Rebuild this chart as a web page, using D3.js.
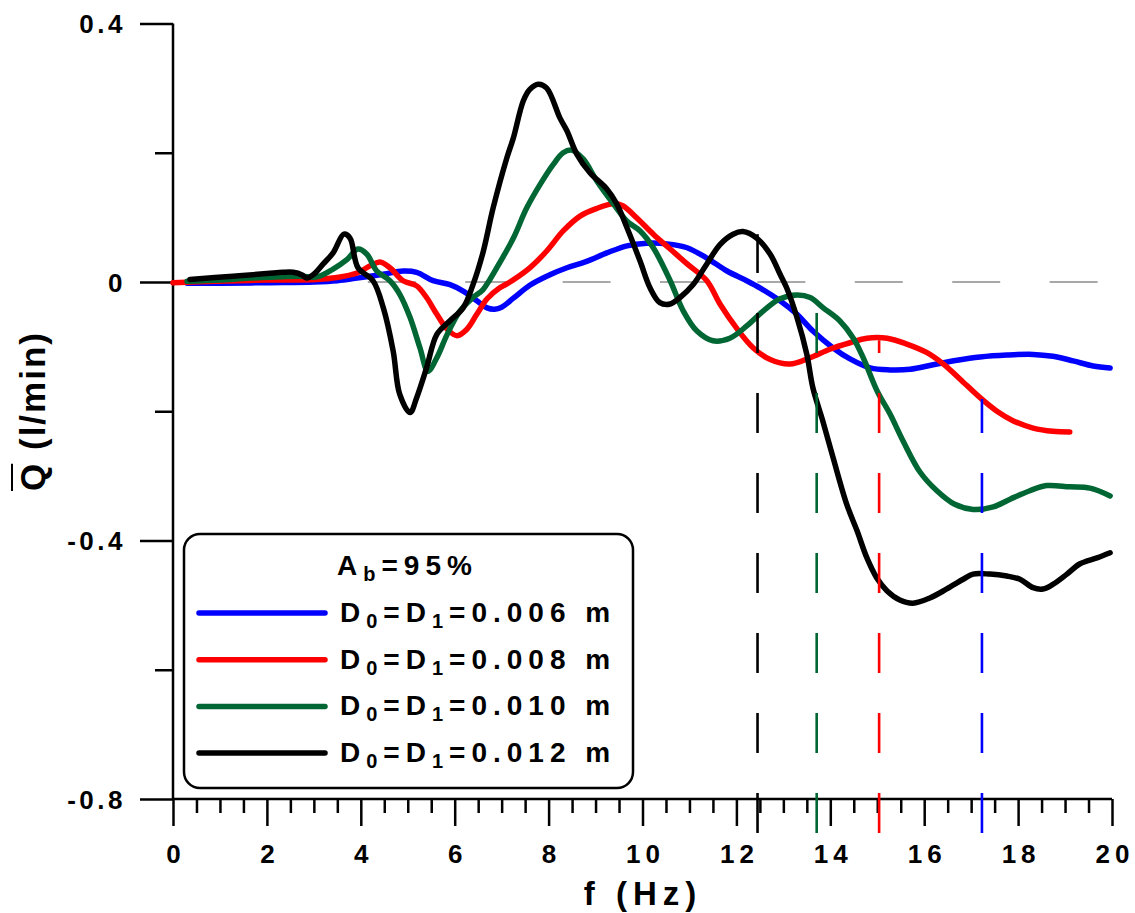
<!DOCTYPE html>
<html><head><meta charset="utf-8">
<script src="https://cdn.jsdelivr.net/npm/d3@7"></script>
<style>
body{margin:0;background:#fff}
svg{display:block}
text{font-family:"Liberation Sans",Arial,sans-serif;font-weight:bold;fill:#000}
</style>
</head><body>
<svg id="c" width="1135" height="913"></svg>
<script>
// ---- data (f in Hz, Q in l/min) ----
const s006 = [[0.3,-0.002],[1.0,-0.002],[2.0,-0.001],[3.0,0.0],[3.5,0.002],[3.92,0.006],[4.48,0.012],[4.9,0.017],[5.19,0.015],[5.54,0.002],[5.9,-0.004],[6.18,-0.014],[6.47,-0.029],[6.69,-0.04],[6.85,-0.042],[7.0,-0.039],[7.25,-0.025],[7.6,-0.005],[7.96,0.009],[8.39,0.022],[8.81,0.032],[9.24,0.045],[9.67,0.056],[10.09,0.060],[10.52,0.059],[10.95,0.053],[11.37,0.037],[11.8,0.017],[12.22,0.002],[12.5,-0.009],[12.93,-0.029],[13.29,-0.05],[13.63,-0.076],[14.06,-0.102],[14.42,-0.119],[14.85,-0.133],[15.27,-0.136],[15.7,-0.135],[16.19,-0.128],[16.7,-0.121],[17.19,-0.116],[17.76,-0.113],[18.32,-0.112],[18.74,-0.115],[19.17,-0.122],[19.6,-0.13],[19.96,-0.133]];
const s008 = [[0,-0.001],[0.93,0.001],[2.0,0.003],[3.07,0.004],[3.49,0.007],[3.92,0.014],[4.2,0.025],[4.41,0.031],[4.62,0.022],[4.9,0.002],[5.19,-0.006],[5.4,-0.024],[5.62,-0.05],[5.84,-0.073],[6.05,-0.083],[6.26,-0.073],[6.47,-0.05],[6.69,-0.026],[6.96,-0.009],[7.11,-0.003],[7.6,0.022],[7.96,0.048],[8.31,0.079],[8.67,0.102],[9.03,0.114],[9.38,0.121],[9.58,0.118],[9.88,0.099],[10.23,0.074],[10.59,0.051],[10.95,0.028],[11.37,0.002],[11.65,-0.034],[12.0,-0.071],[12.36,-0.102],[12.72,-0.12],[13.14,-0.127],[13.57,-0.117],[13.99,-0.104],[14.42,-0.094],[14.78,-0.087],[15.21,-0.087],[15.63,-0.096],[16.05,-0.109],[16.41,-0.127],[16.76,-0.15],[17.19,-0.179],[17.55,-0.2],[17.9,-0.215],[18.32,-0.226],[18.74,-0.231],[19.1,-0.232]];
const s010 = [[0.3,0.001],[1.0,0.003],[1.64,0.006],[2.7,0.009],[3.07,0.008],[3.41,0.02],[3.71,0.035],[3.94,0.051],[4.13,0.043],[4.34,0.017],[4.62,0.002],[4.83,-0.019],[5.05,-0.055],[5.26,-0.102],[5.43,-0.138],[5.62,-0.117],[5.84,-0.081],[6.11,-0.045],[6.39,-0.024],[6.6,-0.012],[6.75,0.004],[6.96,0.03],[7.25,0.068],[7.53,0.114],[7.82,0.151],[8.1,0.182],[8.31,0.2],[8.49,0.204],[8.74,0.19],[9.03,0.156],[9.38,0.121],[9.67,0.094],[9.95,0.079],[10.23,0.053],[10.59,0.002],[10.87,-0.045],[11.16,-0.076],[11.5,-0.091],[11.86,-0.087],[12.22,-0.068],[12.57,-0.045],[12.93,-0.026],[13.29,-0.02],[13.57,-0.024],[13.85,-0.04],[14.2,-0.06],[14.49,-0.087],[14.7,-0.117],[15.0,-0.169],[15.27,-0.204],[15.55,-0.246],[15.91,-0.294],[16.27,-0.323],[16.65,-0.344],[17.04,-0.352],[17.47,-0.348],[17.83,-0.336],[18.25,-0.323],[18.61,-0.315],[19.1,-0.317],[19.53,-0.319],[19.96,-0.331]];
const s012 = [[0.36,0.004],[1.28,0.009],[2.0,0.013],[2.34,0.015],[2.56,0.015],[2.75,0.011],[2.85,0.006],[3.0,0.012],[3.2,0.028],[3.41,0.045],[3.64,0.074],[3.77,0.068],[3.94,0.022],[4.26,0.002],[4.48,-0.04],[4.69,-0.107],[4.83,-0.174],[5.05,-0.202],[5.19,-0.179],[5.4,-0.133],[5.62,-0.081],[5.9,-0.06],[6.18,-0.04],[6.39,-0.004],[6.6,0.045],[6.82,0.115],[7.11,0.192],[7.25,0.223],[7.46,0.28],[7.6,0.298],[7.78,0.306],[7.96,0.30],[8.24,0.254],[8.39,0.234],[8.6,0.198],[8.88,0.169],[9.24,0.144],[9.45,0.121],[9.67,0.084],[9.95,0.032],[10.16,-0.009],[10.37,-0.032],[10.59,-0.034],[10.8,-0.024],[11.08,-0.004],[11.37,0.028],[11.65,0.058],[11.93,0.074],[12.14,0.078],[12.43,0.068],[12.72,0.043],[12.93,0.012],[13.07,-0.009],[13.29,-0.055],[13.5,-0.112],[13.63,-0.164],[13.84,-0.215],[14.06,-0.272],[14.35,-0.344],[14.57,-0.385],[14.78,-0.427],[14.99,-0.458],[15.21,-0.478],[15.48,-0.492],[15.76,-0.497],[16.12,-0.489],[16.48,-0.475],[16.83,-0.46],[17.04,-0.452],[17.4,-0.452],[17.76,-0.455],[18.04,-0.46],[18.32,-0.473],[18.53,-0.475],[18.74,-0.468],[19.04,-0.452],[19.32,-0.436],[19.68,-0.427],[19.96,-0.419]];

const seriesNames = ["0.006","0.008","0.010","0.012"];
const seriesColors = ["#0000ff","#ff0000","#006633","#000000"];
const seriesData = [s006, s008, s010, s012];

// critical-frequency markers (dashed verticals)
const markerF = [12.45, 13.71, 15.04, 17.23];
const markerTop = [0.074, -0.037, -0.09, -0.181];
const markerColors = ["#000000","#006633","#ff0000","#0000ff"];

const xMajor = [0,2,4,6,8,10,12,14,16,18,20];
const yMajor = [0.4,0,-0.4,-0.8];
const yMajorLabels = ["0.4","0","-0.4","-0.8"];
const yMinor = [0.2,-0.2,-0.6];

// ---- chart ----
const svg = d3.select("#c");
const x = d3.scaleLinear().domain([0,20]).range([173,1112]);
const y = d3.scaleLinear().domain([-0.8,0.4]).range([799,23.5]);

// zero reference dashed line
svg.append("line")
  .attr("x1", x(0)).attr("x2", x(20)).attr("y1", y(0)).attr("y2", y(0))
  .attr("stroke","#8c8c8c").attr("stroke-width",1.3).attr("stroke-dasharray","48,49.4");

// axes
const xMinorVals = d3.range(0, 20.001, 0.5).filter(v => Math.abs(v % 2) > 1e-6);
svg.append("g").attr("transform",`translate(0,${y(-0.8)})`)
  .call(d3.axisBottom(x).tickValues(xMinorVals).tickSize(14).tickFormat(""))
  .call(g => g.select(".domain").remove())
  .call(g => g.selectAll("line").attr("stroke","#000").attr("stroke-width",2.5));
svg.append("g").attr("transform",`translate(0,${y(-0.8)})`)
  .call(d3.axisBottom(x).tickValues(xMajor).tickSize(27).tickFormat(d3.format("d")))
  .call(g => g.select(".domain").remove())
  .call(g => g.selectAll("line").attr("stroke","#000").attr("stroke-width",2.5))
  .call(g => g.selectAll("text").attr("y",64).attr("dy",null).attr("dx",2.5)
      .attr("font-size",26).attr("letter-spacing","5px").attr("fill","#000"));

svg.append("g").attr("transform",`translate(${x(0)},0)`)
  .call(d3.axisLeft(y).tickValues(yMinor).tickSize(18).tickFormat(""))
  .call(g => g.select(".domain").remove())
  .call(g => g.selectAll("line").attr("stroke","#000").attr("stroke-width",2.5));
svg.append("g").attr("transform",`translate(${x(0)},0)`)
  .call(d3.axisLeft(y).tickValues(yMajor).tickSize(33).tickFormat((d,i)=>yMajorLabels[i]))
  .call(g => g.select(".domain").remove())
  .call(g => g.selectAll("line").attr("stroke","#000").attr("stroke-width",2.5))
  .call(g => g.selectAll("text").attr("x",-47).attr("dy","0.36em")
      .attr("font-size",26).attr("letter-spacing","3.5px").attr("fill","#000"));

// axis lines
svg.append("line").attr("x1",x(0)).attr("x2",x(0)).attr("y1",y(0.4)).attr("y2",y(-0.8))
  .attr("stroke","#000").attr("stroke-width",2.5);
svg.append("line").attr("x1",x(0)).attr("x2",x(20)).attr("y1",y(-0.8)).attr("y2",y(-0.8))
  .attr("stroke","#000").attr("stroke-width",2.5);

// series lines
const line = d3.line().x(d=>x(d[0])).y(d=>y(d[1])).curve(d3.curveCatmullRom.alpha(0.5));
seriesData.forEach((s,i)=>{
  svg.append("path").datum(s).attr("d",line).attr("fill","none")
    .attr("stroke",seriesColors[i]).attr("stroke-width",5.5)
    .attr("stroke-linejoin","round").attr("stroke-linecap","round");
});

// dashed markers
markerF.forEach((f,i)=>{
  svg.append("line").attr("x1",x(f)).attr("x2",x(f))
    .attr("y1",y(-0.8)+34).attr("y2",y(markerTop[i]))
    .attr("stroke",markerColors[i]).attr("stroke-width",2.6).attr("stroke-dasharray","40,40");
});

// legend
const lg = svg.append("g");
lg.append("rect").attr("x",184).attr("y",534).attr("width",449).attr("height",254).attr("rx",16)
  .attr("fill","#fff").attr("stroke","#000").attr("stroke-width",2.5);
const ab = lg.append("text").attr("x",337).attr("y",575).attr("font-size",28).attr("letter-spacing","6px");
ab.append("tspan").text("A");
ab.append("tspan").attr("font-size",20).attr("dy",6).text("b");
ab.append("tspan").attr("dy",-6).text("=95%");
seriesNames.forEach((nm,i)=>{
  const by = 622 + i*46.7;
  lg.append("line").attr("x1",199).attr("x2",325).attr("y1",by-9).attr("y2",by-9)
    .attr("stroke",seriesColors[i]).attr("stroke-width",5.5).attr("stroke-linecap","round");
  const t = lg.append("text").attr("x",340).attr("y",by).attr("font-size",28).attr("letter-spacing","6px");
  t.append("tspan").text("D");
  t.append("tspan").attr("font-size",20).attr("dy",6).text("0");
  t.append("tspan").attr("dy",-6).text("=D");
  t.append("tspan").attr("font-size",20).attr("dy",6).text("1");
  t.append("tspan").attr("dy",-6).text("=" + nm + " m");
});

// axis titles
svg.append("text").attr("x",643).attr("y",905).attr("text-anchor","middle")
  .attr("font-size",33).attr("letter-spacing","6px").text("f (Hz)");
const yl = svg.append("text").attr("transform","translate(45,411) rotate(-90)")
  .attr("text-anchor","middle").attr("font-size",35).attr("letter-spacing","2px").text("Q (l/min)");
// overline over Q
const node = yl.node();
const ext = node.getExtentOfChar(0);
svg.append("line").attr("transform","translate(45,411) rotate(-90)")
  .attr("x1",ext.x).attr("x2",ext.x+ext.width-2)
  .attr("y1",-33).attr("y2",-33).attr("stroke","#000").attr("stroke-width",2);
</script>
</body></html>
